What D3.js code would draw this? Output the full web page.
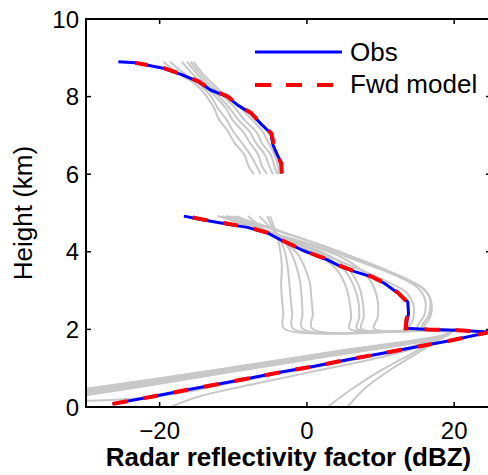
<!DOCTYPE html>
<html>
<head>
<meta charset="utf-8">
<script src="https://cdn.jsdelivr.net/npm/d3@7"></script>
<style>
  body { margin: 0; background: #fff; }
  text { font-family: "Liberation Sans", Arial, Helvetica, sans-serif; fill: #000; }
</style>
</head>
<body>
<div id="chart"></div>
<script>

// observed profile, [dBZ, km]
var obsUpper = [
    [-25.6, 8.90], [-23.3, 8.87], [-19.5, 8.73], [-16.9, 8.56], [-14.7, 8.38], [-13.1, 8.17],
    [-10.8, 8.00], [-9.4, 7.78], [-7.6, 7.57], [-6.3, 7.31], [-4.9, 7.05], [-4.6, 6.75],
    [-4.0, 6.49], [-3.45, 6.28], [-3.45, 6.02]
];
var obsLower = [
    [-16.7, 4.92], [-14.0, 4.82], [-11.3, 4.73], [-8.1, 4.63], [-5.3, 4.48], [-3.1, 4.26],
    [-0.6, 4.04], [1.0, 3.92], [2.8, 3.79], [4.6, 3.62], [6.5, 3.49], [8.7, 3.36],
    [10.5, 3.19], [12.4, 2.93], [13.7, 2.71], [13.8, 2.41], [13.6, 2.24], [13.5, 2.03],
    [16.5, 2.00], [20.5, 1.98], [24.8, 1.93],
    [19.2, 1.70], [14.6, 1.54], [10.1, 1.38], [5.5, 1.22], [1.0, 1.05], [-3.5, 0.90],
    [-7.3, 0.76], [-11.8, 0.60], [-16.4, 0.44], [-20.9, 0.27], [-26.4, 0.08]
];

// forward model profile, ordered from the ground up
var fwdUpper = [
    [-3.4, 6.02], [-3.5, 6.28], [-4.0, 6.50], [-4.5, 6.75], [-4.8, 7.05], [-6.3, 7.32],
    [-7.6, 7.58], [-9.4, 7.79], [-10.8, 8.01], [-13.1, 8.18], [-14.7, 8.39], [-16.9, 8.57],
    [-19.5, 8.74], [-23.3, 8.87]
];
var fwdLower = [
    [-26.4, 0.08], [-20.9, 0.27], [-16.4, 0.44], [-11.8, 0.60], [-7.3, 0.76], [-3.5, 0.90],
    [1.0, 1.05], [5.5, 1.22], [10.1, 1.38], [14.6, 1.54], [19.2, 1.70], [24.8, 1.93],
    [20.5, 1.98], [16.5, 2.00], [13.4, 2.03], [13.5, 2.24], [13.7, 2.41], [13.6, 2.71],
    [12.4, 2.94], [10.5, 3.20], [8.7, 3.37], [6.5, 3.50], [4.6, 3.63], [2.8, 3.80],
    [1.0, 3.93], [-0.6, 4.05], [-3.1, 4.27], [-5.3, 4.49], [-8.1, 4.64], [-11.3, 4.74],
    [-14.0, 4.83], [-16.0, 4.90]
];

// ensemble members above the gap
var ensUpper = [
    [[-19.5, 8.9], [-17.5, 8.6], [-15.0, 8.3], [-13.6, 8.0], [-12.6, 7.7], [-11.9, 7.4], [-10.7, 7.1], [-9.8, 6.8], [-8.5, 6.5], [-7.9, 6.2], [-7.2, 6.0]],
    [[-18.6, 8.9], [-16.7, 8.6], [-14.5, 8.3], [-13.0, 8.0], [-12.1, 7.7], [-10.9, 7.4], [-10.0, 7.1], [-8.8, 6.8], [-7.7, 6.5], [-6.8, 6.2], [-6.3, 6.0]],
    [[-17.0, 8.9], [-15.6, 8.6], [-14.0, 8.3], [-12.4, 8.0], [-11.0, 7.7], [-10.1, 7.4], [-8.7, 7.1], [-7.7, 6.8], [-6.6, 6.5], [-6.1, 6.2], [-5.4, 6.0]],
    [[-16.3, 8.9], [-15.0, 8.6], [-13.6, 8.3], [-11.9, 8.0], [-10.5, 7.7], [-9.3, 7.4], [-7.8, 7.1], [-6.9, 6.8], [-5.7, 6.5], [-5.1, 6.2], [-4.6, 6.0]],
    [[-15.8, 8.9], [-14.6, 8.6], [-13.1, 8.3], [-11.3, 8.0], [-9.7, 7.7], [-8.5, 7.4], [-6.9, 7.1], [-6.1, 6.8], [-4.9, 6.5], [-4.4, 6.2], [-4.0, 6.0]],
    [[-15.4, 8.9], [-14.2, 8.6], [-12.6, 8.3], [-10.9, 8.0], [-9.0, 7.7], [-7.4, 7.4], [-6.0, 7.1], [-5.2, 6.8], [-4.4, 6.5], [-3.9, 6.2], [-3.8, 6.0]]
];

// ensemble members between 2 and 5 km
var ensMid = [
    [[-5.0, 4.92], [-4.4, 4.6], [-3.9, 4.3], [-3.6, 4.0], [-3.4, 3.6], [-3.5, 3.2], [-3.4, 2.8], [-3.2, 2.4], [-3.1, 2.02]],
    [[-5.4, 4.92], [-4.6, 4.6], [-3.6, 4.3], [-3.0, 4.0], [-2.6, 3.6], [-2.4, 3.2], [-2.2, 2.8], [-2.0, 2.4], [-1.9, 2.02]],
    [[-6.5, 4.92], [-4.8, 4.6], [-3.2, 4.3], [-2.2, 4.0], [-1.4, 3.6], [-0.9, 3.2], [-0.7, 2.8], [-0.6, 2.4], [-0.6, 2.02]],
    [[-8.0, 4.92], [-5.6, 4.55], [-3.0, 4.25], [-1.3, 3.95], [-0.3, 3.6], [0.4, 3.2], [0.6, 2.8], [0.8, 2.4], [0.7, 2.02]],
    [[-9.5, 4.92], [-6.0, 4.6], [-3.0, 4.3], [0.0, 4.05], [2.5, 3.8], [4.2, 3.5], [5.3, 3.1], [5.8, 2.7], [6.0, 2.3], [5.8, 2.02]],
    [[-10.5, 4.92], [-6.5, 4.62], [-3.0, 4.33], [0.5, 4.07], [3.2, 3.8], [5.2, 3.5], [6.4, 3.1], [7.0, 2.7], [7.1, 2.3], [6.8, 2.02]],
    [[-11.0, 4.92], [-7.0, 4.65], [-3.0, 4.35], [1.0, 4.08], [3.8, 3.82], [5.8, 3.52], [7.0, 3.15], [7.6, 2.7], [7.7, 2.3], [7.4, 2.02]],
    [[-11.5, 4.92], [-7.5, 4.67], [-3.0, 4.36], [1.5, 4.1], [4.8, 3.85], [7.2, 3.55], [8.8, 3.2], [9.6, 2.75], [9.6, 2.3], [9.1, 2.02]],
    [[-12.0, 4.92], [-8.5, 4.7], [-4.5, 4.42], [0.0, 4.12], [4.0, 3.8], [8.0, 3.48], [11.2, 3.2], [13.5, 2.95], [14.5, 2.6], [14.4, 2.25], [13.9, 2.02]],
    [[-12.1, 4.92], [-8.0, 4.72], [-4.0, 4.45], [0.5, 4.2], [5.0, 3.9], [9.0, 3.62], [12.5, 3.35], [15.0, 3.08], [16.0, 2.8], [16.0, 2.4], [15.0, 2.02]],
    [[-11.0, 4.92], [-7.0, 4.72], [-3.0, 4.48], [1.5, 4.2], [6.0, 3.88], [10.0, 3.58], [13.5, 3.3], [15.8, 3.05], [16.7, 2.8], [16.6, 2.4], [15.6, 2.02]],
    [[-10.0, 4.92], [-6.5, 4.72], [-2.5, 4.46], [2.0, 4.17], [6.5, 3.85], [10.5, 3.55], [14.0, 3.25], [16.2, 2.98], [16.9, 2.7], [16.8, 2.35], [15.9, 2.02]]
];

// ensemble members below the bright band (same order as ensMid)
var ensLow = [
    [[19.8, 1.97], [18.5, 1.83], [14.6, 1.68], [5.5, 1.42], [-3.5, 1.15], [-12.0, 0.90], [-20.0, 0.66], [-30.0, 0.38]],
    [[19.8, 1.97], [18.5, 1.84], [14.6, 1.70], [5.5, 1.45], [-3.5, 1.18], [-12.0, 0.93], [-20.0, 0.70], [-30.0, 0.42]],
    [[19.7, 1.96], [18.4, 1.82], [14.6, 1.66], [5.5, 1.40], [-3.5, 1.13], [-12.0, 0.87], [-20.0, 0.62], [-30.0, 0.33]],
    [[19.9, 1.97], [18.6, 1.85], [14.6, 1.71], [5.5, 1.47], [-3.5, 1.20], [-12.0, 0.96], [-20.0, 0.73], [-30.0, 0.46]],
    [[19.5, 1.95], [17.5, 1.70], [15.0, 1.45], [10.1, 0.95], [6.0, 0.45], [2.8, 0.0]],
    [[19.6, 1.95], [18.4, 1.81], [14.6, 1.65], [5.5, 1.38], [-3.5, 1.11], [-12.0, 0.85], [-20.0, 0.60], [-30.0, 0.30]],
    [[19.7, 1.96], [18.5, 1.84], [14.6, 1.69], [5.5, 1.44], [-3.5, 1.17], [-12.0, 0.92], [-20.0, 0.68], [-30.0, 0.40]],
    [[19.6, 1.95], [17.8, 1.72], [15.5, 1.45], [11.5, 0.98], [8.0, 0.50], [5.5, 0.0]],
    [[19.8, 1.96], [14.6, 1.58], [10.0, 1.36], [0.0, 0.99], [-10.0, 0.63], [-20.0, 0.28], [-30.0, 0.16]],
    [[19.9, 1.97], [18.6, 1.86], [14.6, 1.72], [5.5, 1.48], [-3.5, 1.22], [-12.0, 0.97], [-20.0, 0.74], [-30.0, 0.47]],
    [[19.5, 1.92], [14.6, 1.52], [10.0, 1.28], [0.0, 0.88], [-10.0, 0.48], [-15.0, 0.25], [-18.5, 0.0]],
    [[19.7, 1.96], [18.5, 1.83], [14.6, 1.67], [5.5, 1.41], [-3.5, 1.14], [-12.0, 0.88], [-20.0, 0.64], [-30.0, 0.36]]
];

var xTicks = [-20, 0, 20];
var xTickLabels = ["\u221220", "0", "20"];
var yTicks = [0, 2, 4, 6, 8, 10];
var xDomain = [-30, 25];
var yDomain = [0, 10];

function drawChart() {

    var width = 488, height = 475;
    var plotLeft = 86, plotRight = 491, plotTop = 19, plotBottom = 407;

    var svg = d3.select("#chart").append("svg")
        .attr("width", width)
        .attr("height", height);

    var x = d3.scaleLinear().domain(xDomain).range([plotLeft, plotRight]);
    var y = d3.scaleLinear().domain(yDomain).range([plotBottom, plotTop]);

    svg.append("clipPath").attr("id", "plotClip")
        .append("rect")
        .attr("x", plotLeft).attr("y", plotTop)
        .attr("width", plotRight - plotLeft).attr("height", plotBottom - plotTop);

    var plot = svg.append("g").attr("clip-path", "url(#plotClip)");

    var straight = d3.line()
        .x(function (d) { return x(d[0]); })
        .y(function (d) { return y(d[1]); });

    var smooth = d3.line()
        .x(function (d) { return x(d[0]); })
        .y(function (d) { return y(d[1]); })
        .curve(d3.curveCatmullRom.alpha(0.5));

    // ensemble, light grey
    ensUpper.forEach(function (m) {
        plot.append("path")
            .attr("d", smooth(m))
            .attr("fill", "none")
            .attr("stroke", "#c8c8c8")
            .attr("stroke-width", 2);
    });
    ensMid.forEach(function (m, i) {
        plot.append("path")
            .attr("d", smooth(m.concat(ensLow[i])))
            .attr("fill", "none")
            .attr("stroke", "#c8c8c8")
            .attr("stroke-width", 2);
    });

    // obs
    [obsUpper, obsLower].forEach(function (p) {
        plot.append("path")
            .attr("d", straight(p))
            .attr("fill", "none")
            .attr("stroke", "#0000ff")
            .attr("stroke-width", 3)
            .attr("stroke-linejoin", "round");
    });

    // forward model
    [fwdUpper, fwdLower].forEach(function (p) {
        plot.append("path")
            .attr("d", straight(p))
            .attr("fill", "none")
            .attr("stroke", "#ff0000")
            .attr("stroke-width", 4)
            .attr("stroke-dasharray", "15,16");
    });

    // axes box
    var axes = svg.append("g");

    axes.append("rect")
        .attr("x", plotLeft).attr("y", plotTop)
        .attr("width", plotRight - plotLeft).attr("height", plotBottom - plotTop)
        .attr("fill", "none")
        .attr("stroke", "#000")
        .attr("stroke-width", 2);

    var tickLen = 5;

    xTicks.forEach(function (t, i) {
        axes.append("line")
            .attr("x1", x(t)).attr("x2", x(t))
            .attr("y1", plotBottom).attr("y2", plotBottom - tickLen)
            .attr("stroke", "#000").attr("stroke-width", 1.5);
        axes.append("line")
            .attr("x1", x(t)).attr("x2", x(t))
            .attr("y1", plotTop).attr("y2", plotTop + tickLen)
            .attr("stroke", "#000").attr("stroke-width", 1.5);
        axes.append("text")
            .attr("x", x(t))
            .attr("y", 439)
            .attr("text-anchor", "middle")
            .attr("font-size", 24)
            .text(xTickLabels[i]);
    });

    yTicks.forEach(function (t) {
        axes.append("line")
            .attr("x1", plotLeft).attr("x2", plotLeft + tickLen)
            .attr("y1", y(t)).attr("y2", y(t))
            .attr("stroke", "#000").attr("stroke-width", 1.5);
        axes.append("line")
            .attr("x1", plotRight).attr("x2", plotRight - tickLen)
            .attr("y1", y(t)).attr("y2", y(t))
            .attr("stroke", "#000").attr("stroke-width", 1.5);
        axes.append("text")
            .attr("x", 79)
            .attr("y", y(t) + 8.5)
            .attr("text-anchor", "end")
            .attr("font-size", 24)
            .text(t);
    });

    svg.append("text")
        .attr("x", (plotLeft + plotRight) / 2)
        .attr("y", 466)
        .attr("text-anchor", "middle")
        .attr("font-size", 26)
        .attr("font-weight", "bold")
        .text("Radar reflectivity factor (dBZ)");

    svg.append("text")
        .attr("transform", "translate(32," + ((plotTop + plotBottom) / 2) + ") rotate(-90)")
        .attr("text-anchor", "middle")
        .attr("font-size", 26)
        .text("Height (km)");

    // legend
    var legend = svg.append("g");

    legend.append("line")
        .attr("x1", 255).attr("x2", 342)
        .attr("y1", 52).attr("y2", 52)
        .attr("stroke", "#0000ff").attr("stroke-width", 3);
    legend.append("text")
        .attr("x", 350).attr("y", 61)
        .attr("font-size", 26)
        .text("Obs");

    legend.append("line")
        .attr("x1", 255).attr("x2", 340)
        .attr("y1", 85).attr("y2", 85)
        .attr("stroke", "#ff0000").attr("stroke-width", 4)
        .attr("stroke-dasharray", "16,15");
    legend.append("text")
        .attr("x", 350).attr("y", 93)
        .attr("font-size", 26)
        .text("Fwd model");
}

drawChart();

</script>
</body>
</html>
